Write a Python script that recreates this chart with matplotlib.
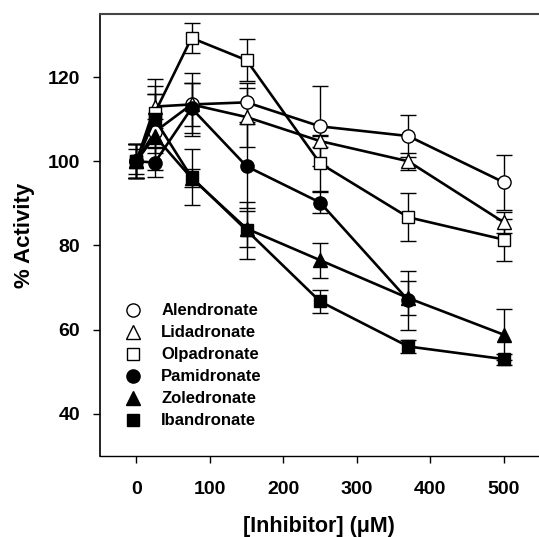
import matplotlib
matplotlib.use("Agg")
import matplotlib.pyplot as plt
from matplotlib.lines import Line2D

plt.rcParams["font.family"] = ["Liberation Sans", "DejaVu Sans"]
plt.rcParams["font.weight"] = "bold"

# concentrations (uM)
conc = [0, 25, 75, 150, 250, 370, 500]

# % activity
alendronate = [100, 107, 113.5, 114, 108.3, 106, 95]
alendronate_err = [4, 9, 7.5, 4.7, 9.5, 5, 6.5]
lidadronate = [100, 113, 113.5, 110.5, 104.8, 100, 85.5]
lidadronate_err = [4, 5, 5, 7, 1.5, 2, 2.5]
olpadronate = [100, 111.5, 129.3, 124, 99.5, 86.7, 81.4]
olpadronate_err = [3, 8, 3.5, 5, 6.5, 5.7, 5]
pamidronate = [100, 99.7, 112.6, 98.8, 90.2, 67]  # no 500 uM point
pamidronate_err = [4, 3.5, 6, 10, 2.5, 7]
zoledronate = [100, 106, 96, 84, 76.5, 67.5, 58.8]
zoledronate_err = [4, 4, 2.2, 4.3, 4.2, 4, 6]
ibandronate = [100, 110, 96.2, 83.6, 66.7, 56, 53]
ibandronate_err = [4, 6, 6.7, 6.7, 2.7, 1.5, 1.3]

series = [
    ("Alendronate", alendronate, alendronate_err, "o", "white"),
    ("Lidadronate", lidadronate, lidadronate_err, "^", "white"),
    ("Olpadronate", olpadronate, olpadronate_err, "s", "white"),
    ("Pamidronate", pamidronate, pamidronate_err, "o", "black"),
    ("Zoledronate", zoledronate, zoledronate_err, "^", "black"),
    ("Ibandronate", ibandronate, ibandronate_err, "s", "black"),
]

fig = plt.figure(figsize=(5.39, 5.37), dpi=100)
ax = fig.add_axes([0.185, 0.151, 0.815, 0.823])

handles = []
for name, y, err, mk, fc in series:
    x = conc[:len(y)]
    ms = 9.5 if mk != "s" else 9
    ax.errorbar(x, y, yerr=err, color="black", linewidth=1.9,
                elinewidth=1.0, capsize=5.5, capthick=1.0,
                marker=mk, markersize=ms, markerfacecolor=fc,
                markeredgecolor="black", markeredgewidth=1.0, zorder=3)
    handles.append(Line2D([], [], linestyle="none", marker=mk, markersize=ms,
                          markerfacecolor=fc, markeredgecolor="black",
                          markeredgewidth=1.0, label=name))

ax.set_xlim(-50, 548)
ax.set_ylim(30, 135)
ax.set_xticks(range(0, 501, 100))
ax.set_yticks(range(40, 121, 20))
ax.tick_params(direction="out", length=5, width=1, labelsize=14)
ax.tick_params(axis="x", pad=13)
ax.tick_params(axis="y", pad=9)
for lab in ax.get_xticklabels() + ax.get_yticklabels():
    lab.set_fontweight("bold")

ax.spines["right"].set_visible(False)
ax.spines["top"].set_color("#444444")
ax.spines["top"].set_linewidth(1.5)
ax.spines["left"].set_linewidth(1.2)
ax.spines["bottom"].set_linewidth(1.0)

ax.set_xlabel("[Inhibitor] (\u03bcM)", fontsize=15.5, fontweight="bold", labelpad=13)
ax.set_ylabel("% Activity", fontsize=16, fontweight="bold", labelpad=9)

ax.legend(handles=handles, loc="upper left", bbox_to_anchor=(0.053, 0.345),
          frameon=False, fontsize=12, handlelength=1.2, handletextpad=1.1,
          labelspacing=0.42, borderaxespad=0, borderpad=0)

fig.savefig("out.png", dpi=100)
